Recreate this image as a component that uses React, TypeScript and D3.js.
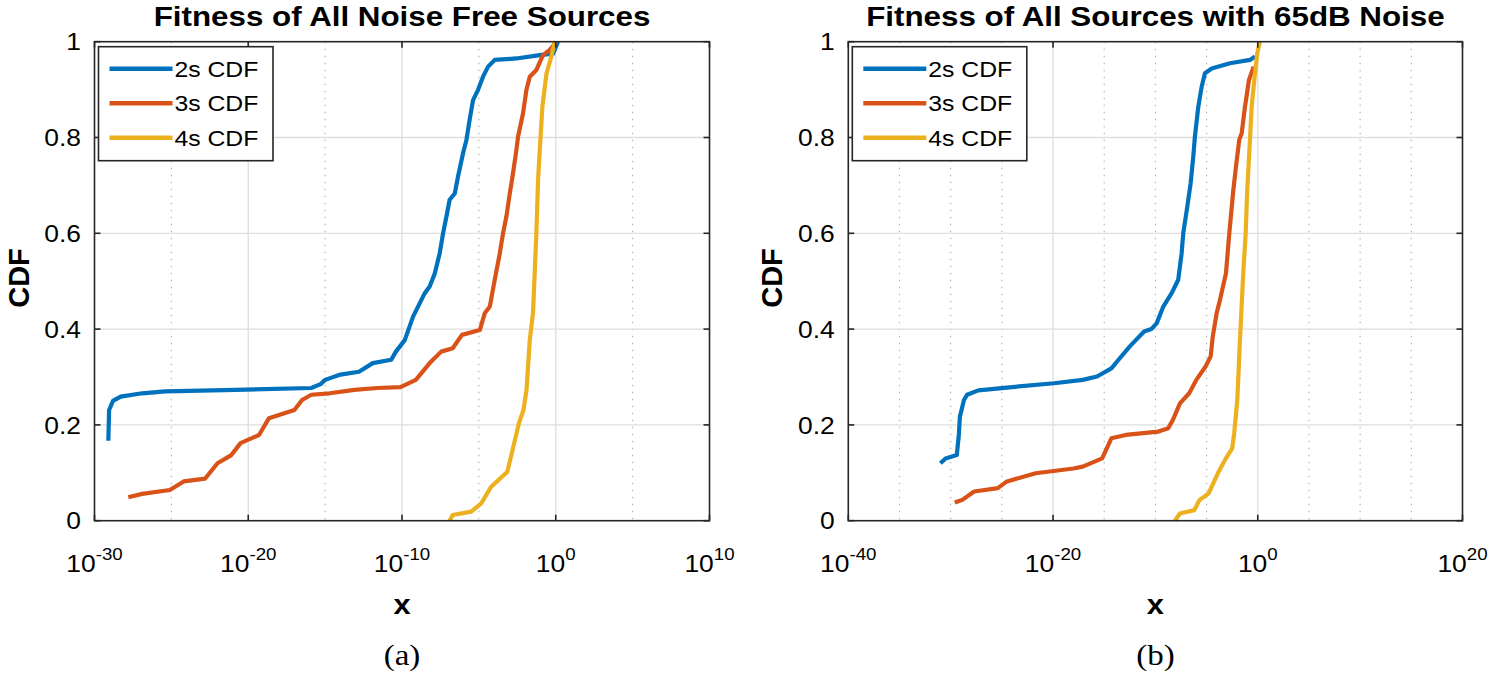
import React, { useEffect, useRef } from "react";
import * as d3 from "d3";

// CDF curves, points are [log10(x), cdf]
const noiseFree2s: [number, number][] = [
	[-29.1, 0.167], [-29.05, 0.231], [-28.8, 0.25], [-28.3, 0.259], [-26.9, 0.266],
	[-25.4, 0.27], [-20.8, 0.273], [-15.9, 0.277], [-15.3, 0.285], [-15.0, 0.294],
	[-14.0, 0.305], [-12.8, 0.311], [-11.9, 0.329], [-10.7, 0.336], [-10.4, 0.353],
	[-9.82, 0.377], [-9.28, 0.426], [-8.52, 0.475], [-8.2, 0.489], [-7.87, 0.516],
	[-7.55, 0.558], [-7.33, 0.6], [-7.11, 0.635], [-6.9, 0.67], [-6.57, 0.683],
	[-6.36, 0.718], [-6.03, 0.767], [-5.81, 0.795], [-5.6, 0.837], [-5.38, 0.878],
	[-5.06, 0.899], [-4.73, 0.927], [-4.4, 0.948], [-3.97, 0.962], [-2.56, 0.965],
	[-1.04, 0.972], [-0.17, 0.975], [0.15, 1.0],
];
const noiseFree3s: [number, number][] = [
	[-27.8, 0.049], [-26.9, 0.056], [-25.1, 0.064], [-24.2, 0.082], [-22.8, 0.088],
	[-22.0, 0.12], [-21.1, 0.137], [-20.5, 0.162], [-19.3, 0.179], [-18.65, 0.214],
	[-17.7, 0.224], [-17.0, 0.231], [-16.5, 0.252], [-15.9, 0.263], [-14.7, 0.266],
	[-13.1, 0.273], [-11.6, 0.277], [-10.1, 0.279], [-9.1, 0.294], [-8.2, 0.329],
	[-7.45, 0.353], [-6.7, 0.36], [-6.1, 0.388], [-4.94, 0.398], [-4.62, 0.433],
	[-4.29, 0.447], [-3.97, 0.503], [-3.64, 0.558], [-3.43, 0.6], [-3.21, 0.635],
	[-2.99, 0.683], [-2.78, 0.725], [-2.56, 0.774], [-2.45, 0.802], [-2.13, 0.85],
	[-1.91, 0.899], [-1.69, 0.927], [-1.26, 0.941], [-0.83, 0.972], [-0.39, 0.983],
	[0.04, 1.0],
];
const noiseFree4s: [number, number][] = [
	[-6.9, 0], [-6.7, 0.012], [-5.5, 0.019], [-4.85, 0.036], [-4.2, 0.071],
	[-3.15, 0.102], [-2.7, 0.162], [-2.4, 0.203], [-2.1, 0.231], [-1.9, 0.273],
	[-1.69, 0.377], [-1.48, 0.433], [-1.37, 0.516], [-1.26, 0.6], [-1.15, 0.711],
	[-1.0, 0.795], [-0.87, 0.864], [-0.6, 0.934], [-0.28, 0.97], [-0.07, 1.0],
];

const noisy2s: [number, number][] = [
	[-31, 0.12], [-30.5, 0.13], [-29.4, 0.137], [-29.2, 0.18], [-29.1, 0.217],
	[-28.7, 0.252], [-28.4, 0.263], [-27.3, 0.272], [-24, 0.279], [-19.9, 0.287],
	[-17.1, 0.294], [-15.7, 0.301], [-14.3, 0.318], [-13.6, 0.336], [-12.5, 0.364],
	[-11.1, 0.395], [-10.4, 0.4], [-9.88, 0.412], [-9.23, 0.447], [-8.41, 0.475],
	[-7.77, 0.503], [-7.44, 0.558], [-7.28, 0.6], [-6.89, 0.655], [-6.56, 0.704],
	[-6.3, 0.76], [-6.14, 0.802], [-5.81, 0.864], [-5.48, 0.906], [-5.16, 0.934],
	[-4.5, 0.944], [-2.72, 0.955], [-0.76, 0.962], [-0.27, 0.969],
];
const noisy3s: [number, number][] = [
	[-29.6, 0.038], [-28.9, 0.043], [-27.7, 0.061], [-25.4, 0.068], [-24.5, 0.082],
	[-21.7, 0.099], [-18, 0.109], [-17.1, 0.113], [-15.2, 0.13], [-14.3, 0.172],
	[-12.9, 0.179], [-9.7, 0.186], [-8.75, 0.193], [-8.3, 0.21], [-7.6, 0.245],
	[-6.7, 0.266], [-6.0, 0.294], [-5.1, 0.322], [-4.6, 0.343], [-4.4, 0.384],
	[-4.02, 0.433], [-3.69, 0.461], [-3.11, 0.516], [-2.78, 0.6], [-2.39, 0.69],
	[-2.13, 0.739], [-1.81, 0.795], [-1.57, 0.809], [-1.25, 0.864], [-0.86, 0.92],
	[-0.4, 0.948],
];
const noisy4s: [number, number][] = [
	[-8.1, 0], [-7.6, 0.015], [-6.2, 0.022], [-5.7, 0.043], [-4.8, 0.057],
	[-3.9, 0.099], [-3.2, 0.127], [-2.5, 0.151], [-2.3, 0.183], [-2.0, 0.252],
	[-1.85, 0.322], [-1.74, 0.377], [-1.42, 0.516], [-1.18, 0.6], [-1.03, 0.69],
	[-0.76, 0.795], [-0.6, 0.864], [-0.27, 0.934], [-0.05, 0.976], [0.21, 1.0],
];

const legendLabels = ["2s CDF", "3s CDF", "4s CDF"];
const yTicks = [0, 0.2, 0.4, 0.6, 0.8, 1];
const yTickLabels = ["0", "0.2", "0.4", "0.6", "0.8", "1"];

const leftDomain = [-30, 10];
const leftMajor = [-30, -20, -10, 0, 10];
const leftMinor = [-25, -15, -5, 5];
const rightDomain = [-40, 20];
const rightMajor = [-40, -20, 0, 20];
const rightMinor = [-35, -30, -25, -15, -10, -5, 5, 10, 15];

const COLORS = ["#0072BD", "#D95319", "#EDB120"];
const FONT = "'Liberation Sans', Arial, Helvetica, sans-serif";
const SX = 1.1;

type Panel = {
	left: number;
	right: number;
	domain: number[];
	major: number[];
	minor: number[];
	title: string;
	caption: string;
	series: [number, number][][];
};

const TOP = 41.7;
const BOTTOM = 520.7;

function drawPanel(svg: d3.Selection<SVGSVGElement, unknown, null, undefined>, p: Panel) {
	const x = d3
		.scaleLog()
		.domain([Math.pow(10, p.domain[0]), Math.pow(10, p.domain[1])])
		.range([p.left, p.right]);
	const y = d3.scaleLinear().domain([0, 1]).range([BOTTOM, TOP]);
	const g = svg.append("g");
	const cx = (p.left + p.right) / 2;

	// grid
	g.selectAll(".minor")
		.data(p.minor)
		.enter()
		.append("line")
		.attr("x1", (d) => x(Math.pow(10, d)))
		.attr("x2", (d) => x(Math.pow(10, d)))
		.attr("y1", TOP)
		.attr("y2", BOTTOM)
		.attr("stroke", "#b8b8b8")
		.attr("stroke-width", 1.2)
		.attr("stroke-dasharray", "1.5 5.5");
	g.selectAll(".vgrid")
		.data(p.major.slice(1, -1))
		.enter()
		.append("line")
		.attr("x1", (d) => x(Math.pow(10, d)))
		.attr("x2", (d) => x(Math.pow(10, d)))
		.attr("y1", TOP)
		.attr("y2", BOTTOM)
		.attr("stroke", "#dedede")
		.attr("stroke-width", 1.3);
	g.selectAll(".hgrid")
		.data(yTicks.slice(1, -1))
		.enter()
		.append("line")
		.attr("x1", p.left)
		.attr("x2", p.right)
		.attr("y1", (d) => y(d))
		.attr("y2", (d) => y(d))
		.attr("stroke", "#dedede")
		.attr("stroke-width", 1.3);

	// curves
	const line = d3
		.line<[number, number]>()
		.x((d) => x(Math.pow(10, d[0])))
		.y((d) => y(d[1]));
	p.series.forEach((s, i) => {
		g.append("path")
			.attr("d", line(s) as string)
			.attr("fill", "none")
			.attr("stroke", COLORS[i])
			.attr("stroke-width", 4.2)
			.attr("stroke-linejoin", "round");
	});

	// box + ticks
	g.append("rect")
		.attr("x", p.left)
		.attr("y", TOP)
		.attr("width", p.right - p.left)
		.attr("height", BOTTOM - TOP)
		.attr("fill", "none")
		.attr("stroke", "#262626")
		.attr("stroke-width", 1.6);
	p.major.forEach((e) => {
		const xv = x(Math.pow(10, e));
		g.append("line").attr("x1", xv).attr("x2", xv).attr("y1", BOTTOM).attr("y2", BOTTOM - 6)
			.attr("stroke", "#262626").attr("stroke-width", 1.6);
		g.append("line").attr("x1", xv).attr("x2", xv).attr("y1", TOP).attr("y2", TOP + 6)
			.attr("stroke", "#262626").attr("stroke-width", 1.6);
	});
	yTicks.forEach((t) => {
		g.append("line").attr("x1", p.left).attr("x2", p.left + 6).attr("y1", y(t)).attr("y2", y(t))
			.attr("stroke", "#262626").attr("stroke-width", 1.6);
		g.append("line").attr("x1", p.right).attr("x2", p.right - 6).attr("y1", y(t)).attr("y2", y(t))
			.attr("stroke", "#262626").attr("stroke-width", 1.6);
	});

	// tick labels
	yTicks.forEach((t, i) => {
		g.append("text")
			.attr("transform", `translate(${p.left - 13.5},${y(t)}) scale(${SX},1)`)
			.attr("dy", "0.36em")
			.attr("text-anchor", "end")
			.attr("font-family", FONT)
			.attr("font-size", 24)
			.attr("fill", "#000")
			.text(yTickLabels[i]);
	});
	p.major.forEach((e) => {
		const t = g
			.append("text")
			.attr("transform", `translate(${x(Math.pow(10, e))},571.5) scale(${SX},1)`)
			.attr("text-anchor", "middle")
			.attr("font-family", FONT)
			.attr("fill", "#000");
		t.append("tspan").attr("font-size", 24).text("10");
		t.append("tspan").attr("font-size", 17).attr("dy", -12).text(String(e));
	});

	// titles and labels
	g.append("text")
		.attr("transform", `translate(${cx},25.5) scale(${SX},1)`)
		.attr("text-anchor", "middle")
		.attr("font-family", FONT)
		.attr("font-weight", "bold")
		.attr("font-size", 28.5)
		.text(p.title);
	g.append("text")
		.attr("transform", `translate(${cx},614) scale(${SX},1)`)
		.attr("text-anchor", "middle")
		.attr("font-family", FONT)
		.attr("font-weight", "bold")
		.attr("font-size", 28)
		.text("x");
	g.append("text")
		.attr("transform", `translate(${p.left - 66},278) rotate(-90)`)
		.attr("text-anchor", "middle")
		.attr("font-family", FONT)
		.attr("font-weight", "bold")
		.attr("font-size", 29)
		.text("CDF");
	g.append("text")
		.attr("transform", `translate(${cx},665) scale(${SX},1)`)
		.attr("text-anchor", "middle")
		.attr("font-family", "'Liberation Serif', 'Times New Roman', serif")
		.attr("font-size", 30)
		.text(p.caption);

	// legend
	const lx = p.left + 4;
	const ly = 46.7;
	const lg = g.append("g");
	lg.append("rect")
		.attr("x", lx)
		.attr("y", ly)
		.attr("width", 174.5)
		.attr("height", 114)
		.attr("fill", "#fff")
		.attr("stroke", "#262626")
		.attr("stroke-width", 1.6);
	legendLabels.forEach((lab, i) => {
		const ry = ly + 22 + i * 34.5;
		lg.append("line")
			.attr("x1", lx + 11)
			.attr("x2", lx + 74)
			.attr("y1", ry)
			.attr("y2", ry)
			.attr("stroke", COLORS[i])
			.attr("stroke-width", 4.5);
		lg.append("text")
			.attr("transform", `translate(${lx + 76},${ry}) scale(${SX},1)`)
			.attr("dy", "0.36em")
			.attr("font-family", FONT)
			.attr("font-size", 22.5)
			.text(lab);
	});
}

const App: React.FC = () => {
	const ref = useRef<SVGSVGElement | null>(null);

	useEffect(() => {
		if (!ref.current) return;
		const svg = d3.select(ref.current);
		drawPanel(svg, {
			left: 94.5,
			right: 709.5,
			domain: leftDomain,
			major: leftMajor,
			minor: leftMinor,
			title: "Fitness of All Noise Free Sources",
			caption: "(a)",
			series: [noiseFree2s, noiseFree3s, noiseFree4s],
		});
		drawPanel(svg, {
			left: 848.3,
			right: 1462.5,
			domain: rightDomain,
			major: rightMajor,
			minor: rightMinor,
			title: "Fitness of All Sources with 65dB Noise",
			caption: "(b)",
			series: [noisy2s, noisy3s, noisy4s],
		});
		return () => {
			svg.selectAll("*").remove();
		};
	}, []);

	return (
		<svg
			ref={ref}
			width={1495}
			height={678}
			style={{ position: "absolute", left: 0, top: 0, background: "#fff", display: "block" }}
		/>
	);
};

export default App;
